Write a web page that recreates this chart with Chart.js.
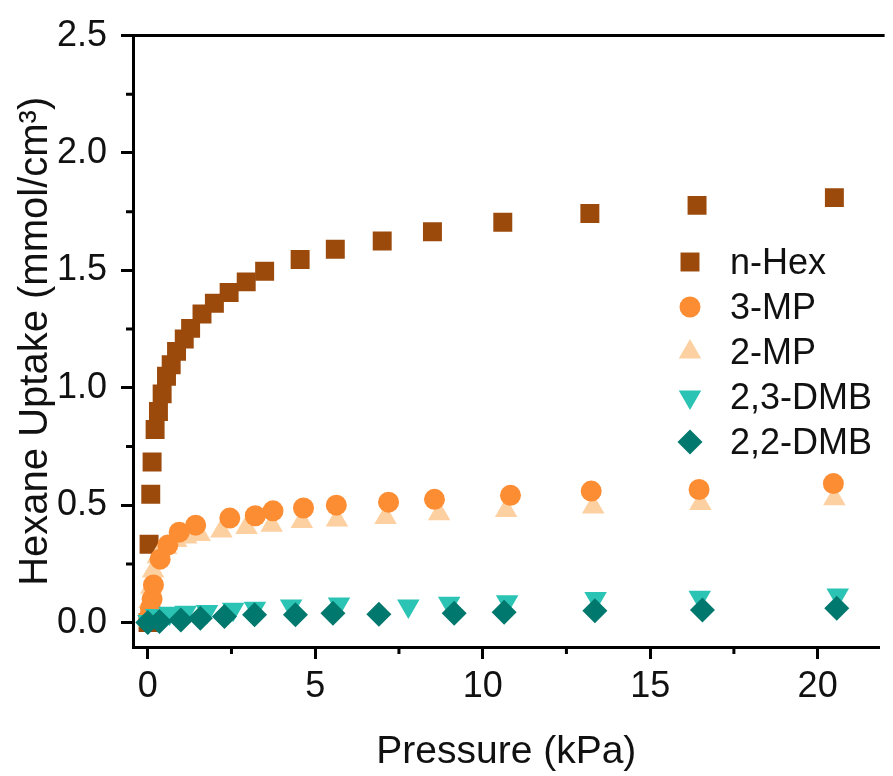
<!DOCTYPE html>
<html><head><meta charset="utf-8">
<script src="https://cdn.jsdelivr.net/npm/chart.js@4.4.0/dist/chart.umd.min.js"></script>
<style>html,body{margin:0;padding:0;background:#fff;overflow:hidden}</style>
</head><body>
<canvas id="c" width="893" height="776"></canvas>
<script>
// ---- data (pressure in kPa, uptake in mmol/cm3) ----
const seriesNames = ['n-Hex', '3-MP', '2-MP', '2,3-DMB', '2,2-DMB'];
const nHexP = [0.01, 0.04, 0.09, 0.13, 0.22, 0.32, 0.43, 0.56, 0.70, 0.86, 1.09, 1.28, 1.62, 1.99, 2.43, 2.94, 3.49, 4.55, 5.6, 7.0, 8.5, 10.6, 13.2, 16.4, 20.5];
const nHexU = [0.0, 0.334, 0.547, 0.684, 0.822, 0.899, 0.974, 1.049, 1.098, 1.155, 1.208, 1.253, 1.314, 1.360, 1.406, 1.451, 1.496, 1.546, 1.59, 1.625, 1.665, 1.705, 1.742, 1.777, 1.81];
const mp3P = [0.03, 0.08, 0.13, 0.17, 0.37, 0.60, 0.94, 1.43, 2.45, 3.21, 3.74, 4.65, 5.63, 7.19, 8.56, 10.83, 13.24, 16.46, 20.47];
const mp3U = [0.02, 0.06, 0.10, 0.16, 0.27, 0.33, 0.385, 0.415, 0.445, 0.455, 0.476, 0.488, 0.50, 0.513, 0.525, 0.542, 0.56, 0.567, 0.592];
const mp2P = [0.02, 0.05, 0.10, 0.16, 0.30, 0.55, 0.85, 1.15, 1.55, 2.2, 2.95, 3.7, 4.6, 5.65, 7.1, 8.7, 10.7, 13.3, 16.5, 20.5];
const mp2U = [0.01, 0.09, 0.15, 0.22, 0.28, 0.32, 0.35, 0.365, 0.375, 0.39, 0.405, 0.415, 0.43, 0.437, 0.448, 0.463, 0.477, 0.492, 0.507, 0.527];
const dmb23P = [0.02, 0.25, 0.65, 1.13, 1.77, 2.55, 3.2, 4.28, 5.71, 7.78, 9.0, 10.73, 13.37, 16.48, 20.6];
const dmb23U = [0.005, 0.03, 0.04, 0.044, 0.047, 0.057, 0.061, 0.071, 0.079, 0.071, 0.082, 0.089, 0.103, 0.108, 0.118];
const dmb22P = [0.0, 0.35, 0.99, 1.57, 2.29, 3.19, 4.41, 5.53, 6.9, 9.15, 10.64, 13.35, 16.56, 20.57];
const dmb22U = [0.0, 0.005, 0.011, 0.018, 0.026, 0.033, 0.033, 0.04, 0.036, 0.04, 0.044, 0.05, 0.054, 0.061];
const xTickValues = [0, 5, 10, 15, 20];
const xMinorValues = [2.5, 7.5, 12.5, 17.5];
const yTickValues = [0, 0.5, 1.0, 1.5, 2.0, 2.5];
const yMinorValues = [0.25, 0.75, 1.25, 1.75, 2.25];

const colors = ['#9B4A0C', '#FD8D33', '#FDD0A2', '#2BC4B4', '#00786E'];
const styles = ['rect', 'circle', 'triangle', 'triangle', 'rectRot'];
const rotations = [0, 0, 0, 180, 0];
const radii = [13.4, 10.5, 13, 13, 12.5];
const orders = [5, 3, 4, 2, 1];

const zip = (xs, ys) => xs.map((x, i) => ({x: x, y: ys[i]}));
const allP = [nHexP, mp3P, mp2P, dmb23P, dmb22P];
const allU = [nHexU, mp3U, mp2U, dmb23U, dmb22U];

const FONT = "'Liberation Sans', Arial, Helvetica, sans-serif";
const TEXT = '#111';

const datasets = seriesNames.map((n, i) => ({
  label: n,
  data: zip(allP[i], allU[i]),
  pointStyle: styles[i],
  pointRotation: rotations[i],
  pointRadius: radii[i],
  pointHoverRadius: radii[i],
  backgroundColor: colors[i],
  borderColor: colors[i],
  pointBorderWidth: 0,
  borderWidth: 0,
  showLine: false,
  order: orders[i]
}));

const framePlugin = {
  id: 'frame',
  afterDraw(chart) {
    const ctx = chart.ctx, a = chart.chartArea;
    const xs = chart.scales.x, ys = chart.scales.y;
    ctx.save();
    ctx.strokeStyle = '#000';
    ctx.lineWidth = 3;
    ctx.beginPath();
    ctx.moveTo(a.left - 1.5, a.top);
    ctx.lineTo(a.right + 5, a.top);
    ctx.stroke();
    // minor ticks
    ctx.beginPath();
    xMinorValues.forEach(v => {
      const px = xs.getPixelForValue(v);
      ctx.moveTo(px, a.bottom);
      ctx.lineTo(px, a.bottom + 7);
    });
    yMinorValues.forEach(v => {
      const py = ys.getPixelForValue(v);
      ctx.moveTo(a.left, py);
      ctx.lineTo(a.left - 7, py);
    });
    ctx.stroke();
    ctx.restore();
  }
};

const legendPlugin = {
  id: 'insideLegend',
  afterDraw(chart) {
    const ctx = chart.ctx;
    const markerX = 690, textX = 730, y0 = 262, dy = 45;
    ctx.save();
    ctx.font = '36px ' + FONT;
    ctx.textBaseline = 'middle';
    ctx.textAlign = 'left';
    chart.data.datasets.forEach((ds, i) => {
      const y = y0 + i * dy;
      ctx.fillStyle = ds.backgroundColor;
      ctx.strokeStyle = ds.backgroundColor;
      const opts = {pointStyle: ds.pointStyle, radius: ds.pointRadius, rotation: ds.pointRotation, borderWidth: 0};
      if (Chart.helpers && Chart.helpers.drawPoint) {
        Chart.helpers.drawPoint(ctx, opts, markerX, y);
      }
      ctx.fillStyle = TEXT;
      ctx.fillText(ds.label, textX, y + 2);
    });
    ctx.restore();
  }
};

new Chart(document.getElementById('c'), {
  type: 'scatter',
  data: {datasets: datasets},
  options: {
    responsive: false,
    animation: false,
    devicePixelRatio: 1,
    layout: {padding: {top: 34, right: 0, left: 0, bottom: 0}},
    plugins: {legend: {display: false}, tooltip: {enabled: false}},
    elements: {point: {borderWidth: 0}},
    scales: {
      x: {
        type: 'linear',
        min: -0.44,
        max: 21.85,
        afterBuildTicks: s => { s.ticks = xTickValues.map(v => ({value: v})); },
        afterFit: s => { s.height = 129; },
        ticks: {
          color: TEXT,
          font: {family: FONT, size: 36},
          padding: 6,
          maxRotation: 0,
          callback: v => String(v)
        },
        grid: {drawOnChartArea: false, drawTicks: true, tickLength: 12, tickWidth: 3, tickColor: '#000'},
        border: {display: true, color: '#000', width: 3},
        title: {display: true, text: 'Pressure (kPa)', color: TEXT, font: {family: FONT, size: 39}, padding: {top: 0, bottom: 0}}
      },
      y: {
        type: 'linear',
        min: -0.104,
        max: 2.5,
        afterBuildTicks: s => { s.ticks = yTickValues.map(v => ({value: v})); },
        afterFit: s => { s.width = 133; },
        ticks: {
          color: TEXT,
          font: {family: FONT, size: 36},
          padding: 14,
          callback: v => Number(v).toFixed(1)
        },
        grid: {drawOnChartArea: false, drawTicks: true, tickLength: 12, tickWidth: 3, tickColor: '#000'},
        border: {display: true, color: '#000', width: 3},
        title: {display: true, text: 'Hexane Uptake (mmol/cm³)', color: TEXT, font: {family: FONT, size: 40}, padding: {top: 12, bottom: 0}}
      }
    }
  },
  plugins: [framePlugin, legendPlugin]
});
</script>
</body></html>
